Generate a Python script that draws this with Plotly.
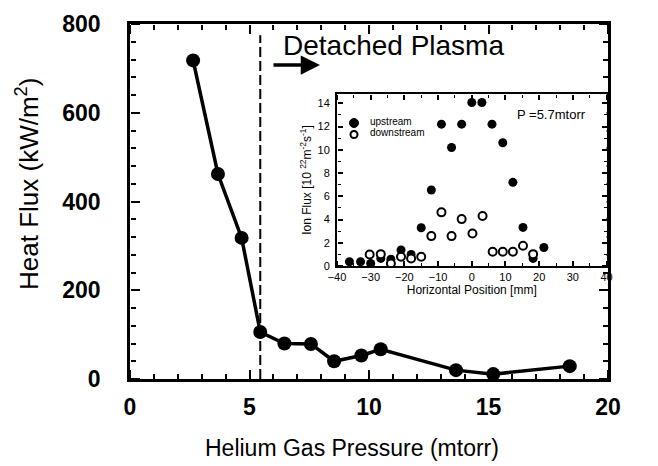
import plotly.graph_objects as go

# Main chart data
pressure = [2.64, 3.68, 4.67, 5.45, 6.46, 7.57, 8.54, 9.68, 10.49, 13.64, 15.2, 18.4]
heat_flux = [718, 462, 318, 106, 80, 79, 40, 53, 67, 20, 11, 29]
detach_pressure = 5.45

# Inset data
up_x = [-36.3, -33, -30, -27, -24, -21, -18, -15, -12, -9, -6, -3, 0, 3, 6, 9.2, 12.2, 15.2, 18.2, 21.4]
up_y = [0.37, 0.37, 0.23, 0.66, 0.6, 1.38, 1.0, 3.3, 6.54, 12.2, 10.2, 12.2, 14.06, 14.06, 12.2, 10.6, 7.2, 3.33, 0.66, 1.6]
down_x = [-30.3, -27, -24, -21, -18, -15, -12, -9, -6, -3, 0.2, 3.2, 6.2, 9.2, 12.2, 15.2, 18.2]
down_y = [1.0, 1.03, 0.23, 0.8, 0.66, 0.8, 2.58, 4.62, 2.58, 4.04, 2.81, 4.3, 1.23, 1.23, 1.23, 1.75, 1.03]

legend_labels = ["upstream", "downstream"]

MAIN_X_RANGE = [0, 20]
MAIN_Y_RANGE = [0, 800]
INSET_X_RANGE = [-40, 40]
INSET_Y_RANGE = [0, 14.8]
INSET_X_DOMAIN = [0.433, 0.997]
INSET_Y_DOMAIN = [0.318, 0.803]

FONT = "Liberation Sans, Arial, Helvetica, sans-serif"

def px(x):
    return (x - 130) / 478

def py(y):
    return (379 - y) / 355

fig = go.Figure()
fig.add_trace(go.Scatter(
    x=pressure, y=heat_flux, mode="lines+markers",
    line=dict(color="black", width=3.5),
    marker=dict(color="black", size=14),
    showlegend=False, xaxis="x", yaxis="y"))

fig.add_trace(go.Scatter(
    x=up_x, y=up_y, mode="markers", name=legend_labels[0],
    marker=dict(color="black", size=9),
    showlegend=False, xaxis="x2", yaxis="y2"))
fig.add_trace(go.Scatter(
    x=down_x, y=down_y, mode="markers", name=legend_labels[1],
    marker=dict(color="white", size=8, line=dict(color="black", width=2)),
    showlegend=False, xaxis="x2", yaxis="y2"))

# empty traces that register the tick-only overlay axes
for xa, ya in [("x3", "y3"), ("x4", "y4"), ("x5", "y5"), ("x6", "y6")]:
    fig.add_trace(go.Scatter(x=[], y=[], xaxis=xa, yaxis=ya, showlegend=False,
                             hoverinfo="skip"))

base = dict(showline=True, linecolor="black", mirror=True, showgrid=False,
            zeroline=False, ticks="")

def tick_axis(rng, dtick, tick0, minor_dtick, length, minor_len, width, overlay, side, pos):
    return dict(range=rng, overlaying=overlay, side=side, anchor="free", position=pos,
                tickmode="linear", tick0=tick0, dtick=dtick,
                ticks="outside", ticklen=length, tickwidth=width, tickcolor="black",
                showticklabels=False, showline=False, showgrid=False, zeroline=False,
                minor=dict(dtick=minor_dtick, ticks="outside", ticklen=minor_len,
                           tickwidth=max(width - 0.5, 1), tickcolor="black", showgrid=False))

fig.update_layout(
    width=658, height=466,
    margin=dict(l=130, r=50, t=24, b=87),
    paper_bgcolor="white", plot_bgcolor="white",
    font=dict(family=FONT, color="black"),
    xaxis=dict(
        range=MAIN_X_RANGE, tickmode="linear", tick0=0, dtick=5,
        linewidth=2.5, ticklabelstandoff=6,
        tickfont=dict(size=23, family=FONT, weight="bold"), **base,
    ),
    yaxis=dict(
        range=MAIN_Y_RANGE, tickmode="linear", tick0=0, dtick=200,
        linewidth=2.5, ticklabelstandoff=22,
        tickfont=dict(size=23, family=FONT, weight="bold"), **base,
    ),
    xaxis2=dict(
        domain=INSET_X_DOMAIN, anchor="y2",
        range=INSET_X_RANGE, tickmode="linear", tick0=-40, dtick=10,
        linewidth=2, ticklabelstandoff=0,
        tickfont=dict(size=11),
        title=dict(text="Horizontal Position [mm]", font=dict(size=12), standoff=0),
        **base,
    ),
    yaxis2=dict(
        domain=INSET_Y_DOMAIN, anchor="x2",
        range=INSET_Y_RANGE, tickmode="linear", tick0=0, dtick=2,
        linewidth=2, ticklabelstandoff=3,
        tickfont=dict(size=11),
        title=dict(text="Ion Flux [10 <sup>22</sup>m<sup>-2</sup>s<sup>-1</sup>]", font=dict(size=12), standoff=3),
        **base,
    ),
    # main plot: inward-pointing ticks on all four sides
    xaxis3=tick_axis(MAIN_X_RANGE, 5, 0, 1, 9, 5, 2, "x", "top", 0),
    xaxis4=tick_axis(MAIN_X_RANGE, 5, 0, 1, 9, 5, 2, "x", "bottom", 1),
    yaxis3=tick_axis(MAIN_Y_RANGE, 200, 0, 40, 9, 5, 2, "y", "right", 0),
    yaxis4=tick_axis(MAIN_Y_RANGE, 200, 0, 40, 9, 5, 2, "y", "left", 1),
    # inset: inward-pointing ticks on all four sides
    xaxis5=tick_axis(INSET_X_RANGE, 10, -40, 5, 5, 3, 1.5, "x2", "top", INSET_Y_DOMAIN[0]),
    xaxis6=tick_axis(INSET_X_RANGE, 10, -40, 5, 5, 3, 1.5, "x2", "bottom", INSET_Y_DOMAIN[1]),
    yaxis5=tick_axis(INSET_Y_RANGE, 2, 0, 1, 5, 3, 1.5, "y2", "right", INSET_X_DOMAIN[0]),
    yaxis6=tick_axis(INSET_Y_RANGE, 2, 0, 1, 5, 3, 1.5, "y2", "left", INSET_X_DOMAIN[1]),
)

fig.add_shape(type="line", xref="x", yref="paper",
              x0=detach_pressure, x1=detach_pressure, y0=0, y1=0.968,
              line=dict(color="black", width=2, dash="10px,4px"))

fig.add_annotation(text="Helium Gas Pressure (mtorr)", xref="paper", yref="paper",
                   x=px(352), y=py(448), xanchor="center", yanchor="middle",
                   showarrow=False, font=dict(size=23))
fig.add_annotation(text="Heat Flux (kW/m<sup>2</sup>)", xref="paper", yref="paper",
                   x=px(28), y=py(184), xanchor="center", yanchor="middle",
                   textangle=-90, showarrow=False, font=dict(size=26))

fig.add_annotation(text="Detached Plasma", xref="paper", yref="paper",
                   x=px(281), y=py(45), xanchor="left", yanchor="middle",
                   showarrow=False, font=dict(size=28))
fig.add_annotation(text="", xref="paper", yref="paper",
                   x=px(320), y=py(65),
                   ax=-48, ay=0, showarrow=True,
                   arrowhead=2, arrowsize=1.1, arrowwidth=3.5, arrowcolor="black")
fig.add_annotation(text="P =5.7mtorr", xref="paper", yref="paper",
                   x=px(588), y=py(114), xanchor="right", yanchor="middle",
                   showarrow=False, font=dict(size=13))

fig.add_shape(type="circle", xref="paper", yref="paper",
              x0=px(349.5), x1=px(358.5), y0=py(127.5), y1=py(118.5),
              fillcolor="black", line=dict(color="black", width=1))
fig.add_shape(type="circle", xref="paper", yref="paper",
              x0=px(350.5), x1=px(357.5), y0=py(138), y1=py(131),
              fillcolor="white", line=dict(color="black", width=2))
fig.add_annotation(text=legend_labels[0], xref="paper", yref="paper",
                   x=px(368), y=py(121.5), xanchor="left", yanchor="middle",
                   showarrow=False, font=dict(size=10))
fig.add_annotation(text=legend_labels[1], xref="paper", yref="paper",
                   x=px(368), y=py(132.5), xanchor="left", yanchor="middle",
                   showarrow=False, font=dict(size=10))

fig.write_html("out.html")
